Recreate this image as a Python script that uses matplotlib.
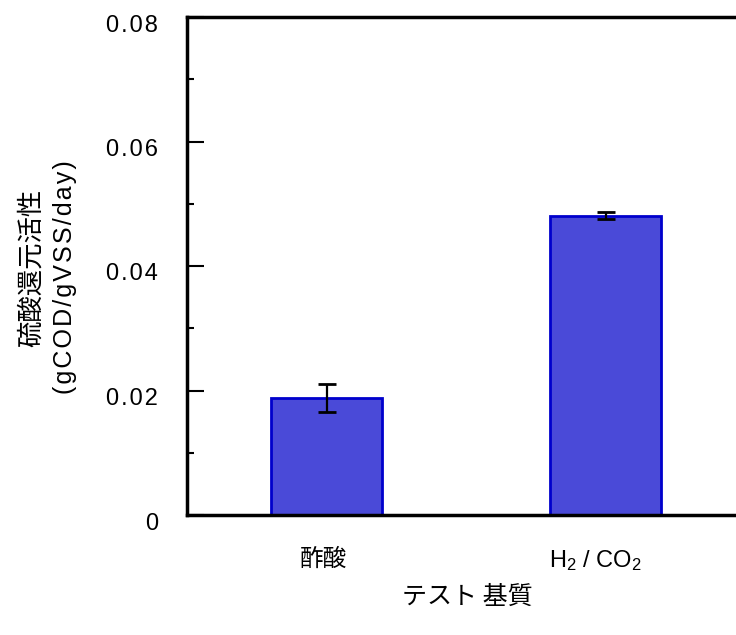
import matplotlib
matplotlib.use("Agg")
import matplotlib.pyplot as plt
from matplotlib.ticker import MultipleLocator, FixedLocator
from matplotlib.transforms import ScaledTranslation

plt.rcParams['font.family'] = ['Liberation Sans', 'Noto Sans CJK JP', 'DejaVu Sans']
plt.rcParams['mathtext.fontset'] = 'custom'
plt.rcParams['mathtext.rm'] = 'Liberation Sans'
plt.rcParams['mathtext.it'] = 'Liberation Sans'

HS = '\u200a'

categories = ['酢酸', 'H$_2$ / CO$_2$']
values = [0.0188, 0.0481]
errors = [0.0022, 0.0006]
yticks = [0, 0.02, 0.04, 0.06, 0.08]
yticklabels = ['0', '0.02', '0.04', '0.06', '0.08']

fig = plt.figure(figsize=(7.36, 6.35), dpi=100)
W, H = 736, 635
left, right, top, bottom = 187, 745, 17, 515
ax = fig.add_axes([left / W, 1 - bottom / H, (right - left) / W, (bottom - top) / H])

x = list(range(len(categories)))
ax.bar(x, values, width=0.40, color='#4A4AD8', edgecolor='#0000CC', linewidth=2,
       yerr=errors, error_kw=dict(ecolor='black', elinewidth=1.6, capsize=6.5, capthick=2),
       zorder=2)

ax.set_xlim(-0.5, 1.5)
ax.set_ylim(0, 0.08)
ax.yaxis.set_major_locator(FixedLocator(yticks))
ax.set_yticklabels([HS.join(s) for s in yticklabels], fontsize=17)
ax.yaxis.set_minor_locator(MultipleLocator(0.01))
ax.set_xticks(x)
ax.set_xticklabels(categories, fontsize=17)
ax.xaxis.get_ticklabels()[0].set_family(['Noto Sans CJK JP', 'Liberation Sans'])
ax.tick_params(axis='x', length=0, pad=24)
ax.tick_params(axis='y', which='major', direction='in', length=12, width=1.5, pad=21)
ax.tick_params(axis='y', which='minor', direction='in', length=5, width=1.5)
off = ScaledTranslation(0, -6 / 100, fig.dpi_scale_trans)
for lab in ax.get_yticklabels():
    lab.set_transform(lab.get_transform() + off)
xl = ax.xaxis.get_ticklabels()
xl[0].set_transform(xl[0].get_transform() + ScaledTranslation(-3 / 100, 0, fig.dpi_scale_trans))
xl[1].set_transform(xl[1].get_transform() + ScaledTranslation(-10 / 100, 0, fig.dpi_scale_trans))

for s in ax.spines.values():
    s.set_linewidth(2.5)
ax.spines['right'].set_visible(False)

fig.text(467 / W, 1 - 597 / H, 'テスト 基質', ha='center', va='center', fontsize=18,
         family=['Noto Sans CJK JP', 'Liberation Sans'])
fig.text(31 / W, 1 - 268 / H, '硫酸還元活性', rotation=90, ha='center', va='center',
         fontsize=19, family=['Noto Sans CJK JP', 'Liberation Sans'])
fig.text(65 / W, 1 - 277 / H, HS.join('(gCOD/gVSS/day)'), rotation=90, ha='center',
         va='center', fontsize=18, family=['Liberation Sans', 'Noto Sans CJK JP', 'DejaVu Sans'])

fig.savefig('out.png', dpi=100)
